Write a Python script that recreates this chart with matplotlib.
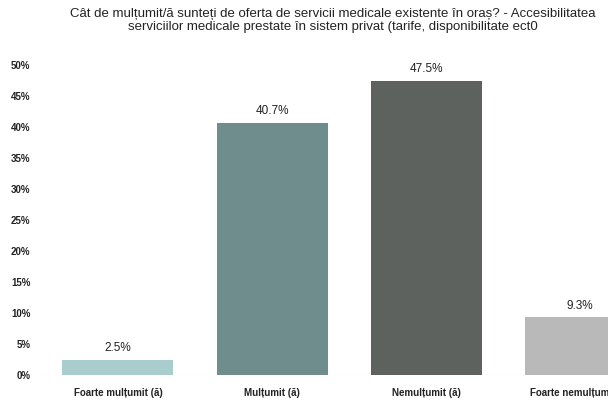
import matplotlib.pyplot as plt
from matplotlib.ticker import FuncFormatter

# date
categorii = ['Foarte mulțumit (ă)', 'Mulțumit (ă)', 'Nemulțumit (ă)', 'Foarte nemulțumit (ă)']
procente = [2.5, 40.7, 47.5, 9.3]
culori = ['#a9cdcd', '#6f8d8c', '#5e625f', '#b9b9b9']
titlu = ('Cât de mulțumit/ă sunteți de oferta de servicii medicale existente în oraș? - Accesibilitatea\n'
         'serviciilor medicale prestate în sistem privat (tarife, disponibilitate ect0')

plt.rcParams['font.family'] = ['Liberation Sans Narrow', 'Liberation Sans', 'DejaVu Sans']

fig = plt.figure(figsize=(6.08, 4.03), dpi=100)
ax = fig.add_axes([40 / 608, 1 - 375 / 403, 1 - 40 / 608, 310 / 403])

x = list(range(len(categorii)))
bars = ax.bar(x, procente, width=0.72, color=culori)

for b, v in zip(bars, procente):
    ax.text(b.get_x() + b.get_width() / 2, v + 0.9, f'{v}%', ha='center', va='bottom',
            fontsize=8.5, color='#222222')

ax.set_xlim(-0.506, 3.18)
ax.set_ylim(0, 50)
ax.set_yticks(range(0, 51, 5))
ax.yaxis.set_major_formatter(FuncFormatter(lambda v, p: f'{int(v)}%'))
ax.set_xticks(x)
ax.set_xticklabels(categorii)
ax.tick_params(axis='both', length=0, labelsize=7, colors='#222222')
ax.tick_params(axis='y', pad=7)
ax.tick_params(axis='x', pad=9)
for lbl in ax.get_xticklabels() + ax.get_yticklabels():
    lbl.set_fontweight('bold')

for s in ax.spines.values():
    s.set_visible(False)
ax.axhline(0, color='#aaaaaa', lw=0.8, ls=':', zorder=0)

fig.text(333 / 608, 1 - 8 / 403, titlu, ha='center', va='top', fontsize=9.5,
         color='#222222', linespacing=1.15)

fig.savefig('out.png', dpi=100)
